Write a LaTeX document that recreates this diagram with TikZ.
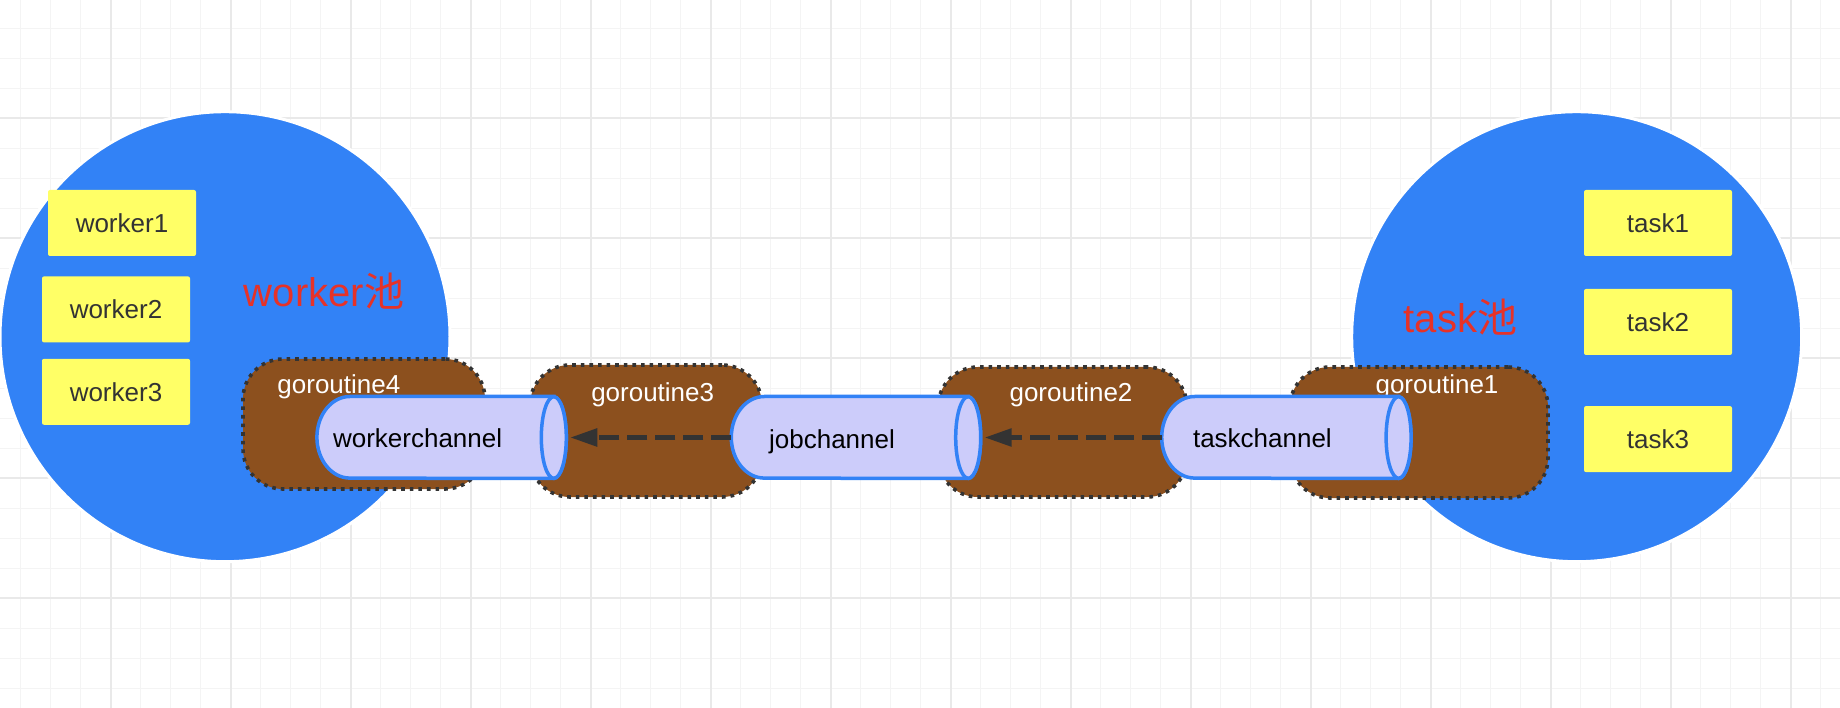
\documentclass[tikz,border=0pt]{standalone}
\usepackage{fontspec}
\setmainfont{Liberation Sans}
\newfontfamily\cjk{Noto Sans CJK SC}
\usepackage{tikz}
\usetikzlibrary{positioning}
\usetikzlibrary{arrows.meta}

\definecolor{poolblue}{RGB}{50,130,246}
\definecolor{gorbrown}{RGB}{140,80,30}
\definecolor{chanfill}{RGB}{204,204,250}
\definecolor{boxyellow}{RGB}{255,255,102}
\definecolor{poolred}{RGB}{230,50,40}
\definecolor{arrowgray}{RGB}{51,51,51}
\definecolor{gridminor}{RGB}{244,244,244}
\definecolor{gridmajor}{RGB}{233,233,233}

\tikzset{
  pool/.style={circle, minimum size=450pt, inner sep=0pt, fill=poolblue, draw=white, line width=3pt},
  poollbl/.style={anchor=base, text=poolred, font=\fontsize{40pt}{48pt}\selectfont},
  poolitem/.style={minimum width=148pt, minimum height=66pt, inner sep=0pt, fill=boxyellow, rounded corners=2pt, text=arrowgray, font=\fontsize{26pt}{30pt}\selectfont},
  gor/.style={fill=gorbrown, draw=arrowgray, line width=3.6pt, dash pattern=on 3.6pt off 5pt, rounded corners=40pt, inner sep=0pt},
  gorlbl/.style={anchor=base, text=white, font=\fontsize{26pt}{30pt}\selectfont},
  chan/.style={minimum width=249pt, minimum height=81.6pt, inner sep=0pt},
  pipe/.style={fill=chanfill, draw=poolblue, line width=3.5pt},
  chanlbl/.style={anchor=base, text=black, font=\fontsize{26pt}{30pt}\selectfont},
  flow/.style={draw=arrowgray, line width=4.5pt, dash pattern=on 20pt off 8pt, -{Triangle[length=27pt,width=17.4pt]}, shorten >=4pt}
}

% channel body: round left end, open ellipse on the right
\newcommand{\pipebody}[1]{%
  \draw[pipe] ([xshift=-12.5pt]#1.north east) -- ([xshift=33pt]#1.north west)
    arc[start angle=90, end angle=270, x radius=33pt, y radius=40.8pt]
    -- ([xshift=-12.5pt]#1.south east)
    arc[start angle=-90, end angle=90, x radius=12.5pt, y radius=40.8pt] -- cycle;
  \draw[pipe] ([xshift=-12.5pt]#1.east) ellipse [x radius=12.5pt, y radius=40.8pt];
}

\begin{document}
\begin{tikzpicture}[x=1pt, y=-1pt]
\useasboundingbox (0,0) rectangle (1840,708);
\fill[white] (0,0) rectangle (1840,708);

% grid
\foreach \x in {20.7,50.7,...,1840} \draw[gridminor, line width=1.5pt] (\x,0) -- (\x,708);
\foreach \y in {28.3,58.3,...,708} \draw[gridminor, line width=1.5pt] (0,\y) -- (1840,\y);
\foreach \x in {110.7,230.7,...,1840} \draw[gridmajor, line width=1.8pt] (\x,0) -- (\x,708);
\foreach \y in {118.3,238.3,...,708} \draw[gridmajor, line width=1.8pt] (0,\y) -- (1840,\y);

% pools
\node (wpool) [pool] at (225,336.7) {};
\node (tpool) [pool] at (1576.7,336.7) {};

\node (worker1) [poolitem] at (122,223) {worker1};
\node (worker2) [poolitem, below=20pt of worker1, xshift=-6pt] {worker2};
\node (worker3) [poolitem, below=16pt of worker2] {worker3};

\node (task1) [poolitem] at (1658,223) {task1};
\node (task2) [poolitem, below=32.6pt of task1] {task2};
\node (task3) [poolitem, below=50.7pt of task2] {task3};

\node (wpoollbl) [poollbl] at (324,307) {worker{\cjk 池}};
\node (tpoollbl) [poollbl] at (1460.5,333) {task{\cjk 池}};

% goroutines
\node (g4) [gor, minimum width=242pt, minimum height=130pt] at (364,424) {};
\node (g3) [gor, minimum width=232pt, minimum height=132pt] at (646,431) {};
\node (g2) [gor, minimum width=249pt, minimum height=130pt] at (1062.5,432) {};
\node (g1) [gor, minimum width=258pt, minimum height=131pt] at (1419,432.5) {};

\node (g4lbl) [gorlbl] at (338.9,393.3) {goroutine4};
\node (g3lbl) [gorlbl] at (652.7,401.7) {goroutine3};
\node (g2lbl) [gorlbl] at (1071,401.7) {goroutine2};
\node (g1lbl) [gorlbl] at (1437,393.3) {goroutine1};

% channels
\node (wch) [chan] at (441.6,437.5) {};
\node (jch) [chan, right=165pt of wch] {};
\node (tch) [chan, right=181pt of jch] {};

\pipebody{wch}
\pipebody{jch}
\pipebody{tch}

\node (wchlbl) [chanlbl] at ([xshift=-24pt,yshift=-10pt]wch.center) {workerchannel};
\node (jchlbl) [chanlbl] at ([xshift=-24pt,yshift=-11pt]jch.center) {jobchannel};
\node (tchlbl) [chanlbl] at ([xshift=-24pt,yshift=-10pt]tch.center) {taskchannel};

\draw[flow] (jch.west) -- (wch.east);
\draw[flow] (tch.west) -- (jch.east);

\end{tikzpicture}
\end{document}
